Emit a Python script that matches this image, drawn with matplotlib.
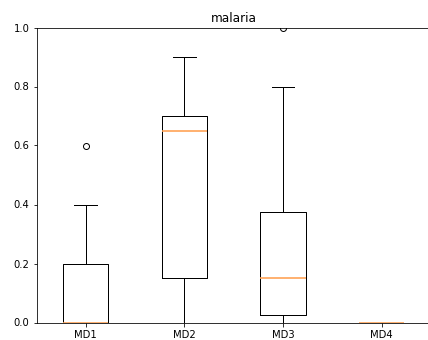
import matplotlib
matplotlib.use("Agg")
import matplotlib.pyplot as plt

# box statistics
labels = ["MD1", "MD2", "MD3", "MD4"]
whislo = [0.0, 0.0, 0.0, 0.0]
q1 = [0.0, 0.15, 0.025, 0.0]
med = [0.0, 0.65, 0.15, 0.0]
q3 = [0.2, 0.7, 0.375, 0.0]
whishi = [0.4, 0.9, 0.8, 0.0]
fliers = [[0.6], [], [1.0], []]

stats = []
for i in range(len(labels)):
    stats.append({"label": labels[i], "whislo": whislo[i], "q1": q1[i],
                  "med": med[i], "q3": q3[i], "whishi": whishi[i],
                  "fliers": fliers[i]})

fig = plt.figure(figsize=(428 / 72, 340 / 72), dpi=72)
ax = fig.add_axes([36.5 / 428, 1 - 322.5 / 340, 394.5 / 428, (322.5 - 27.5) / 340])

ax.bxp(stats, widths=0.46,
       medianprops={"color": "#ffa050", "linewidth": 1.6})
ax.set_xlim(0.5, 4.5)
ax.set_ylim(0, 1.0)
ax.set_title("malaria")

fig.savefig("out.png", dpi=72)
